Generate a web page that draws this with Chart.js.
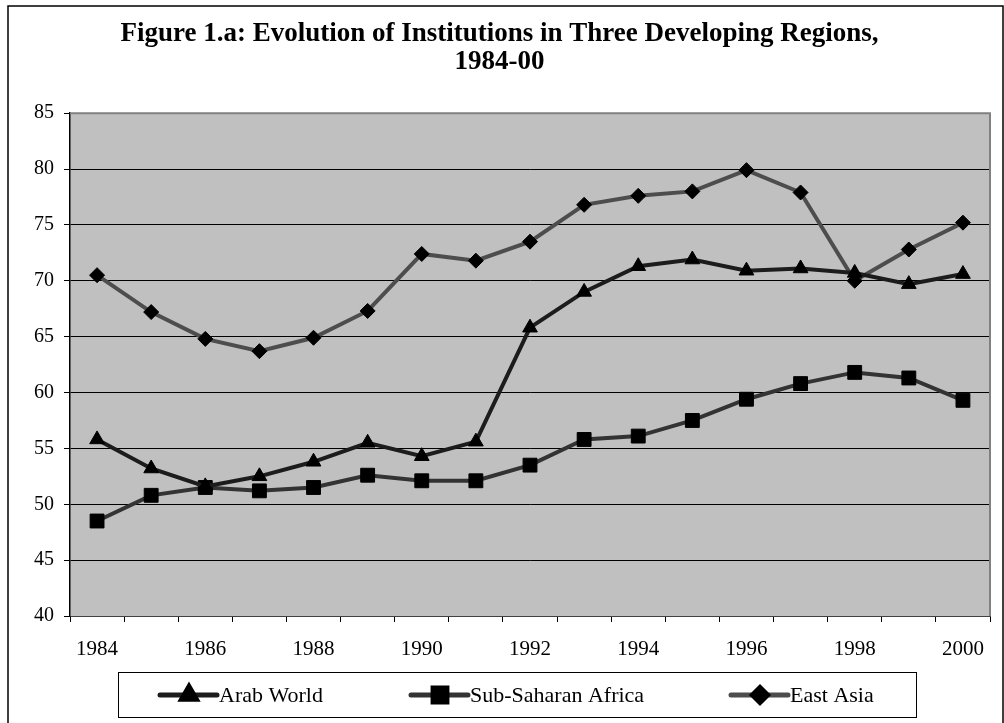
<!DOCTYPE html>
<html>
<head>
<meta charset="utf-8">
<script src="https://cdn.jsdelivr.net/npm/chart.js@4/dist/chart.umd.min.js"></script>
<style>
  body { margin: 0; background: #fff; }
  #wrap { width: 1004px; height: 723px; position: relative; }
</style>
</head>
<body>
<div id="wrap"><canvas id="myChart"></canvas></div>
<script>
// data
let years = ['1984', '1985', '1986', '1987', '1988', '1989', '1990', '1991', '1992',
  '1993', '1994', '1995', '1996', '1997', '1998', '1999', '2000'];
let arabWorld = [55.8, 53.2, 51.6, 52.5, 53.8, 55.5, 54.3, 55.6, 65.8, 69.0, 71.3, 71.9, 70.9, 71.1, 70.7, 69.7, 70.6];
let subSaharan = [48.5, 50.8, 51.5, 51.2, 51.5, 52.6, 52.1, 52.1, 53.5, 55.8, 56.1, 57.5, 59.4, 60.8, 61.8, 61.3, 59.3];
let eastAsia = [70.5, 67.2, 64.8, 63.7, 64.9, 67.3, 72.4, 71.8, 73.5, 76.8, 77.6, 78.0, 79.9, 77.9, 70.0, 72.8, 75.2];
let yTicks = [40, 45, 50, 55, 60, 65, 70, 75, 80, 85];

let serif = '"Liberation Serif", "DejaVu Serif", serif';

// grey plot background + frame
const plotBack = {
  id: 'plotBack',
  beforeDraw(chart) {
    const { ctx, chartArea: a } = chart;
    ctx.save();
    ctx.fillStyle = '#c0c0c0';
    ctx.fillRect(a.left, a.top, a.right - a.left, a.bottom - a.top);
    ctx.restore();
  },
  afterDraw(chart) {
    const { ctx, chartArea: a } = chart;
    ctx.save();
    ctx.strokeStyle = '#808080';
    ctx.lineWidth = 2;
    ctx.beginPath();
    ctx.moveTo(a.left, a.top);
    ctx.lineTo(a.right, a.top);
    ctx.lineTo(a.right, a.bottom);
    ctx.stroke();
    // outer frame
    ctx.strokeStyle = '#000';
    ctx.lineWidth = 1.5;
    ctx.strokeRect(8, 6, 995, 740);
    ctx.restore();
  }
};

// boxed legend with line + marker
const boxLegend = {
  id: 'boxLegend',
  afterDraw(chart) {
    const ctx = chart.ctx;
    ctx.save();
    ctx.fillStyle = '#fff';
    ctx.fillRect(118, 672, 798, 45);
    ctx.strokeStyle = '#000';
    ctx.lineWidth = 1;
    ctx.strokeRect(118.5, 672.5, 798, 45);
    let starts = [160, 411, 731];
    let cy = 695;
    chart.data.datasets.forEach((ds, i) => {
      let x0 = starts[i];
      ctx.strokeStyle = ds.borderColor;
      ctx.lineWidth = 5;
      ctx.lineCap = 'round';
      ctx.beginPath();
      ctx.moveTo(x0, cy);
      ctx.lineTo(x0 + 57, cy);
      ctx.stroke();
      ctx.fillStyle = '#000';
      ctx.strokeStyle = '#000';
      Chart.helpers.drawPoint(ctx, {
        pointStyle: ds.pointStyle,
        radius: ds.pointRadius,
        rotation: 0,
        borderWidth: 1
      }, x0 + 29, cy);
      ctx.fillStyle = '#000';
      ctx.font = '22px ' + serif;
      ctx.textBaseline = 'middle';
      ctx.textAlign = 'left';
      ctx.fillText(ds.label, x0 + 59, cy + 1);
    });
    ctx.restore();
  }
};

const data = {
  labels: years,
  datasets: [
    {
      label: 'Arab World',
      data: arabWorld,
      borderColor: '#1c1c1c',
      borderWidth: 4,
      pointStyle: 'triangle',
      pointRadius: 8.5,
      pointBackgroundColor: '#000',
      pointBorderColor: '#000',
      pointBorderWidth: 1
    },
    {
      label: 'Sub-Saharan Africa',
      data: subSaharan,
      borderColor: '#333333',
      borderWidth: 4,
      pointStyle: 'rect',
      pointRadius: 9.8,
      pointBackgroundColor: '#000',
      pointBorderColor: '#000',
      pointBorderWidth: 1
    },
    {
      label: 'East Asia',
      data: eastAsia,
      borderColor: '#4d4d4d',
      borderWidth: 4,
      pointStyle: 'rectRot',
      pointRadius: 7.5,
      pointBackgroundColor: '#000',
      pointBorderColor: '#000',
      pointBorderWidth: 1
    }
  ]
};

const config = {
  type: 'line',
  data: data,
  plugins: [plotBack, boxLegend],
  options: {
    responsive: true,
    maintainAspectRatio: false,
    animation: false,
    layout: { padding: { left: 9, right: 14, top: 0, bottom: 0 } },
    plugins: {
      legend: { display: false },
      tooltip: { enabled: false },
      title: {
        display: true,
        text: ['Figure 1.a: Evolution of Institutions in Three Developing Regions,', '1984-00'],
        color: '#000',
        font: { family: serif, size: 27, weight: 'bold', lineHeight: 1.04 },
        padding: { top: 20, bottom: 37 }
      }
    },
    scales: {
      x: {
        offset: true,
        grid: {
          offset: true,
          drawOnChartArea: false,
          drawTicks: true,
          tickLength: 6,
          color: '#000'
        },
        border: { color: '#404040', width: 1 },
        ticks: {
          autoSkip: false,
          maxRotation: 0,
          padding: 15,
          color: '#000',
          font: { family: serif, size: 21 },
          callback: function (val, index) {
            return index % 2 === 0 ? this.getLabelForValue(val) : '';
          }
        },
        afterFit(scale) { scale.height = 107; }
      },
      y: {
        min: 40,
        max: 85,
        afterBuildTicks(scale) { scale.ticks = yTicks.map(v => ({ value: v })); },
        grid: { color: '#000', lineWidth: 1, tickLength: 6 },
        border: { color: '#000', width: 1.5 },
        ticks: {
          padding: 10,
          color: '#000',
          font: { family: serif, size: 20 }
        },
        afterFit(scale) { scale.width = 61; }
      }
    }
  }
};

const myChart = new Chart(document.getElementById('myChart'), config);
</script>
</body>
</html>
